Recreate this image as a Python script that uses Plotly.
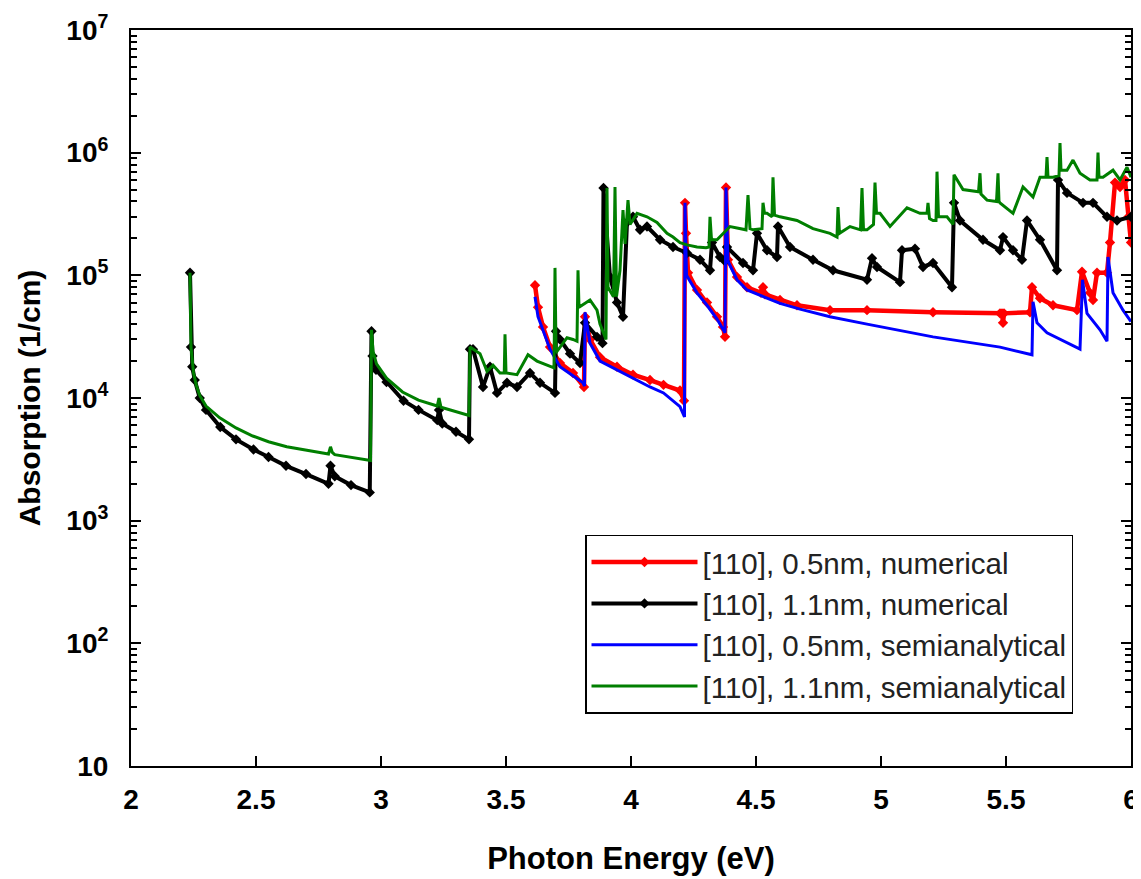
import plotly.graph_objects as go

# ---------------- data ----------------
names = ["[110], 0.5nm, numerical", "[110], 1.1nm, numerical",
         "[110], 0.5nm, semianalytical", "[110], 1.1nm, semianalytical"]

red_E = [3.616, 3.628, 3.648, 3.676, 3.716, 3.768, 3.812, 3.816, 3.836, 3.876, 3.944, 4.008,
         4.076, 4.13, 4.196, 4.212, 4.216, 4.22, 4.228, 4.264, 4.304, 4.344, 4.368, 4.376,
         4.38, 4.388, 4.424, 4.464, 4.52, 4.528, 4.536, 4.596, 4.664, 4.796, 4.944, 5.208,
         5.476, 5.484, 5.488, 5.492, 5.596, 5.604, 5.636, 5.688, 5.784, 5.804, 5.836, 5.848,
         5.864, 5.904, 5.916, 5.936, 5.956, 5.976, 5.99, 6.0]
red_A = [8.3e4, 5.5e4, 3.8e4, 2.6e4, 1.93e4, 1.6e4, 1.23e4, 4.6e4, 3.0e4, 2.15e4, 1.8e4, 1.55e4,
         1.4e4, 1.28e4, 1.15e4, 9.5e3, 3.9e5, 2.2e5, 1.05e5, 7.6e4, 6.0e4, 4.6e4, 3.8e4, 3.15e4,
         5.2e5, 1.34e5, 9.7e4, 8.0e4, 7.2e4, 8.0e4, 7.0e4, 6.3e4, 5.7e4, 5.2e4, 5.2e4, 5.0e4,
         4.9e4, 4.9e4, 4.1e4, 4.9e4, 5.0e4, 8.0e4, 6.5e4, 5.7e4, 5.2e4, 1.07e5, 7.2e4, 6.3e4,
         1.05e5, 1.05e5, 1.85e5, 5.7e5, 5.25e5, 6.0e5, 3.0e5, 1.85e5]

black_E = [2.236, 2.240, 2.245, 2.255, 2.275, 2.30, 2.357, 2.42, 2.49, 2.55, 2.62, 2.70, 2.79,
           2.798, 2.815, 2.88, 2.955, 2.962, 2.966, 2.98, 3.022, 3.09, 3.15, 3.225, 3.232,
           3.245, 3.30, 3.352, 3.356, 3.368, 3.408, 3.436, 3.464, 3.504, 3.544, 3.596, 3.636,
           3.696, 3.700, 3.716, 3.756, 3.796, 3.816, 3.864, 3.886, 3.890, 3.916, 3.944, 3.968,
           3.984, 4.008, 4.036, 4.064, 4.116, 4.168, 4.224, 4.276, 4.316, 4.324, 4.356, 4.376,
           4.384, 4.448, 4.488, 4.504, 4.544, 4.584, 4.588, 4.636, 4.728, 4.808, 4.944, 4.964,
           4.984, 5.076, 5.084, 5.136, 5.168, 5.208, 5.284, 5.292, 5.316, 5.408, 5.476, 5.488,
           5.528, 5.564, 5.584, 5.636, 5.704, 5.708, 5.744, 5.808, 5.848, 5.904, 5.944, 6.0]
black_A = [1.05e5, 2.6e4, 1.8e4, 1.4e4, 1.0e4, 8.0e3, 5.8e3, 4.6e3, 3.8e3, 3.3e3, 2.8e3, 2.4e3, 2.0e3,
           2.8e3, 2.3e3, 1.95e3, 1.7e3, 3.5e4, 2.2e4, 1.7e4, 1.35e4, 9.5e3, 8.0e3, 6.6e3, 8.0e3,
           6.2e3, 5.3e3, 4.6e3, 2.5e4, 2.5e4, 1.23e4, 1.8e4, 1.1e4, 1.33e4, 1.23e4, 1.6e4, 1.33e4,
           1.1e4, 3.5e4, 3.0e4, 2.3e4, 1.93e4, 4.1e4, 3.15e4, 2.8e4, 5.15e5, 9.7e4, 6.0e4, 4.6e4,
           2.7e5, 3.0e5, 2.35e5, 2.5e5, 1.95e5, 1.7e5, 1.52e5, 1.34e5, 1.1e5, 1.85e5, 1.41e5, 1.3e5,
           1.7e5, 1.26e5, 1.1e5, 2.2e5, 1.6e5, 1.41e5, 2.5e5, 1.7e5, 1.34e5, 1.1e5, 9.2e4, 1.38e5,
           1.17e5, 8.8e4, 1.6e5, 1.65e5, 1.17e5, 1.26e5, 8.0e4, 3.9e5, 2.8e5, 1.95e5, 1.6e5, 2.05e5,
           1.6e5, 1.34e5, 2.8e5, 1.95e5, 1.1e5, 6.0e5, 4.7e5, 3.9e5, 3.9e5, 3.0e5, 2.8e5, 3.0e5]

blue_E = [3.616, 3.628, 3.676, 3.716, 3.808, 3.814, 3.816, 3.836, 3.876, 3.944, 4.036, 4.076,
          4.13, 4.196, 4.214, 4.216, 4.222, 4.264, 4.304, 4.344, 4.376, 4.38, 4.388, 4.424,
          4.464, 4.528, 4.596, 4.676, 4.796, 4.944, 5.208, 5.476, 5.604, 5.608, 5.624, 5.664,
          5.744, 5.796, 5.806, 5.824, 5.876, 5.904, 5.908, 5.928, 5.968, 6.0]
blue_A = [6.7e4, 4.6e4, 2.5e4, 1.8e4, 1.33e4, 1.25e4, 5.0e4, 2.8e4, 2.0e4, 1.7e4, 1.35e4, 1.23e4,
          1.1e4, 8.5e3, 7.0e3, 3.9e5, 1.0e5, 7.2e4, 5.7e4, 4.4e4, 3.4e4, 5.2e5, 1.3e5, 9.2e4,
          7.6e4, 6.7e4, 5.9e4, 5.3e4, 4.6e4, 4.0e4, 3.15e4, 2.6e4, 2.25e4, 6.1e4, 4.1e4, 3.4e4,
          2.8e4, 2.5e4, 9.2e4, 4.9e4, 3.6e4, 2.9e4, 1.41e5, 7.2e4, 5.2e4, 4.2e4]

green_E = [2.236, 2.240, 2.250, 2.262, 2.275, 2.30, 2.355, 2.42, 2.487, 2.55, 2.623, 2.70, 2.79,
           2.798, 2.805, 2.815, 2.88, 2.958, 2.962, 2.968, 2.982, 3.022, 3.086, 3.15, 3.225,
           3.232, 3.24, 3.30, 3.352, 3.356, 3.37, 3.396, 3.424, 3.448, 3.476, 3.493, 3.496,
           3.500, 3.544, 3.588, 3.624, 3.676, 3.692, 3.696, 3.700, 3.704, 3.744, 3.768, 3.784,
           3.788, 3.792, 3.836, 3.864, 3.876, 3.900, 3.904, 3.908, 3.93, 3.936, 3.942, 3.956,
           3.968, 3.976, 3.988, 3.996, 4.024, 4.064, 4.104, 4.144, 4.168, 4.196, 4.224, 4.264,
           4.30, 4.312, 4.316, 4.322, 4.344, 4.396, 4.46, 4.468, 4.476, 4.488, 4.524, 4.528,
           4.534, 4.544, 4.564, 4.568, 4.574, 4.596, 4.664, 4.728, 4.796, 4.824, 4.828, 4.834,
           4.876, 4.918, 4.924, 4.93, 4.944, 4.97, 4.976, 4.982, 4.996, 5.036, 5.104, 5.156,
           5.184, 5.188, 5.194, 5.208, 5.22, 5.224, 5.23, 5.264, 5.288, 5.292, 5.328, 5.39,
           5.396, 5.40, 5.424, 5.462, 5.468, 5.472, 5.476, 5.528, 5.568, 5.608, 5.636, 5.66,
           5.664, 5.668, 5.688, 5.712, 5.716, 5.72, 5.744, 5.768, 5.796, 5.836, 5.864, 5.868,
           5.872, 5.888, 5.928, 5.956, 5.984, 6.0]
green_A = [1.05e5, 2.6e4, 1.6e4, 1.25e4, 1.05e4, 8.6e3, 6.9e3, 5.7e3, 4.9e3, 4.4e3, 4.0e3, 3.75e3, 3.5e3,
           4.0e3, 3.6e3, 3.45e3, 3.3e3, 3.1e3, 3.6e4, 2.4e4, 1.9e4, 1.45e4, 1.12e4, 9.6e3, 8.6e3,
           1.0e4, 8.4e3, 7.7e3, 7.2e3, 2.6e4, 2.5e4, 2.3e4, 1.65e4, 1.85e4, 1.6e4, 1.6e4, 3.3e4,
           1.6e4, 1.55e4, 2.25e4, 2.0e4, 1.8e4, 1.76e4, 1.15e5, 2.5e4, 2.4e4, 3.1e4, 3.0e4, 2.9e4,
           1.1e5, 5.5e4, 6.3e4, 5.2e4, 4.0e4, 3.0e4, 5.15e5, 8.0e4, 6.7e4, 5.25e5, 6.7e4, 1.1e5,
           3.4e5, 1.8e5, 4.1e5, 2.6e5, 3.2e5, 3.0e5, 2.7e5, 2.2e5, 2.05e5, 1.85e5, 1.77e5, 1.7e5,
           1.68e5, 1.7e5, 3.0e5, 1.95e5, 1.95e5, 2.5e5, 2.35e5, 4.5e5, 2.4e5, 2.35e5, 2.4e5, 3.9e5,
           3.2e5, 3.2e5, 3.0e5, 6.3e5, 3.1e5, 3.0e5, 2.8e5, 2.4e5, 2.2e5, 2.05e5, 3.6e5, 2.2e5,
           2.5e5, 2.35e5, 5.15e5, 2.35e5, 2.35e5, 2.6e5, 5.7e5, 3.2e5, 3.2e5, 2.5e5, 3.55e5, 3.2e5,
           3.2e5, 3.9e5, 2.9e5, 2.8e5, 2.8e5, 7.0e5, 3.0e5, 3.0e5, 2.6e5, 6.6e5, 5.0e5, 4.8e5,
           6.8e5, 4.6e5, 4.1e5, 4.0e5, 6.8e5, 4.0e5, 3.9e5, 3.2e5, 5.25e5, 4.35e5, 6.3e5, 6.3e5,
           9.2e5, 6.3e5, 6.3e5, 6.5e5, 1.2e6, 7.2e5, 7.2e5, 8.7e5, 6.8e5, 6.0e5, 6.0e5, 1.0e6,
           6.3e5, 6.3e5, 7.2e5, 6.0e5, 7.6e5, 6.3e5]

x_ticks = [2, 2.5, 3, 3.5, 4, 4.5, 5, 5.5, 6]
x_ticktext = ["2", "2.5", "3", "3.5", "4", "4.5", "5", "5.5", "6"]
y_ticks = [1e1, 1e2, 1e3, 1e4, 1e5, 1e6, 1e7]
y_ticktext = ["10", "10<sup>2</sup>", "10<sup>3</sup>", "10<sup>4</sup>",
              "10<sup>5</sup>", "10<sup>6</sup>", "10<sup>7</sup>"]

# ---------------- figure ----------------
FONT = "Liberation Sans, Arial, sans-serif"
GREEN = "#007F00"

fig = go.Figure()
fig.add_trace(go.Scatter(x=red_E, y=red_A, name=names[0], mode="lines+markers",
                         line=dict(color="#FF0000", width=4.5),
                         marker=dict(symbol="diamond", size=8, color="#FF0000")))
fig.add_trace(go.Scatter(x=black_E, y=black_A, name=names[1], mode="lines+markers",
                         line=dict(color="#000000", width=4),
                         marker=dict(symbol="diamond", size=8, color="#000000")))
fig.add_trace(go.Scatter(x=blue_E, y=blue_A, name=names[2], mode="lines",
                         line=dict(color="#0000FF", width=3)))
fig.add_trace(go.Scatter(x=green_E, y=green_A, name=names[3], mode="lines",
                         line=dict(color=GREEN, width=3)))

# the page body adds an 8px offset; the figure is sized to the remaining window
fig.update_layout(
    width=1133, height=871,
    margin=dict(l=123, r=10, t=22, b=113),
    paper_bgcolor="white", plot_bgcolor="white",
    font=dict(family=FONT, color="black"),
    showlegend=True,
    legend=dict(x=0.454, y=0.314, xanchor="left", yanchor="top",
                bgcolor="white", bordercolor="black", borderwidth=1.5,
                font=dict(family=FONT, size=29.5, color="#222222"),
                itemwidth=106, tracegroupgap=0),
)
fig.update_xaxes(
    range=[2, 6], tickvals=x_ticks, ticktext=x_ticktext,
    showline=True, linecolor="black", linewidth=2, mirror=True,
    ticks="inside", ticklen=10, tickwidth=2, tickcolor="black",
    showgrid=False, zeroline=False,
    tickfont=dict(family=FONT, size=28, weight="bold"),
    ticklabelstandoff=7,
    title=dict(text="Photon Energy (eV)", standoff=34,
               font=dict(family=FONT, size=31, weight="bold")),
    automargin=False,
)
fig.update_yaxes(
    type="log", range=[1, 7], tickvals=y_ticks, ticktext=y_ticktext,
    showline=True, linecolor="black", linewidth=2, mirror="ticks",
    ticks="inside", ticklen=10, tickwidth=2, tickcolor="black",
    minor=dict(ticks="inside", ticklen=6, tickwidth=1.5, tickcolor="black", dtick="D1", showgrid=False),
    showgrid=False, zeroline=False,
    tickfont=dict(family=FONT, size=28, weight="bold"),
    ticklabelstandoff=15,
    title=dict(text="Absorption (1/cm)", standoff=17,
               font=dict(family=FONT, size=30, weight="bold")),
    automargin=False,
)

fig.write_html("out.html")
